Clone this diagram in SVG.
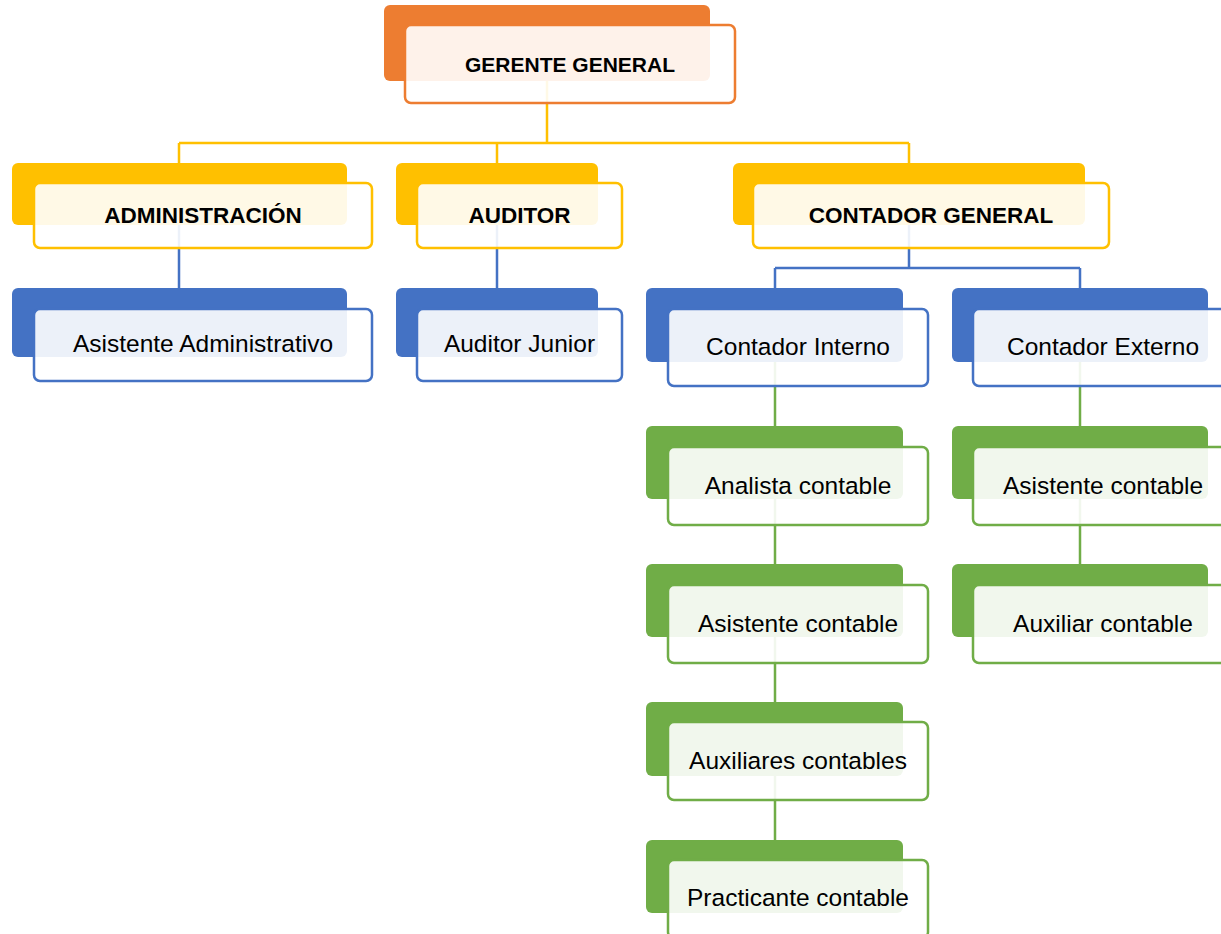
<svg xmlns="http://www.w3.org/2000/svg" width="1221" height="934" viewBox="0 0 1221 934">
<style>
.bo{fill:#ED7D31}.by{fill:#FFC000}.bb{fill:#4472C4}.bg{fill:#70AD47}
.f{fill:#fff;fill-opacity:.9;stroke-width:2.5}
.fo{stroke:#ED7D31}.fy{stroke:#FFC000}.fb{stroke:#4472C4}.fg{stroke:#70AD47}
.c{fill:none;stroke-width:2.5}
.cy{stroke:#FFC000}.cb{stroke:#4472C4}.cg{stroke:#70AD47}
.t{font-family:"Liberation Sans",Arial,sans-serif;font-size:24.5px;text-anchor:middle;fill:#000}
.tb{font-weight:bold;font-size:22.5px}
</style>
<rect width="1221" height="934" fill="#fff"/>
<g id="connectors">
<path class="c cy" d="M547 80V143M179 143H909M179 143V163M497 143V163M909 143V163"/>
<path class="c cb" d="M179 225V288M497 225V288M909 225V268M775 268H1080M775 268V288M1080 268V288"/>
<path class="c cg" d="M775 362V426M775 499V564M775 637V702M775 776V840M1080 362V426M1080 499V564"/>
</g>
<g id="gerente-general"><rect class="bo" x="384" y="5" width="326" height="76" rx="6"/><rect class="f fo" x="405" y="25" width="330" height="78" rx="6"/><text class="t tb" x="570" y="72" style="font-size:21px">GERENTE GENERAL</text></g>
<g id="administracion"><rect class="by" x="12" y="163" width="335" height="62" rx="6"/><rect class="f fy" x="34" y="183" width="338" height="65" rx="6"/><text class="t tb" x="203" y="223">ADMINISTRACIÓN</text></g>
<g id="auditor"><rect class="by" x="396" y="163" width="202" height="62" rx="6"/><rect class="f fy" x="417" y="183" width="205" height="65" rx="6"/><text class="t tb" x="519.5" y="223">AUDITOR</text></g>
<g id="contador-general"><rect class="by" x="733" y="163" width="352" height="62" rx="6"/><rect class="f fy" x="753" y="183" width="356" height="65" rx="6"/><text class="t tb" x="931" y="223">CONTADOR GENERAL</text></g>
<g id="asistente-administrativo"><rect class="bb" x="12" y="288" width="335" height="69" rx="6"/><rect class="f fb" x="34" y="309" width="338" height="72" rx="6"/><text class="t" x="203" y="352">Asistente Administrativo</text></g>
<g id="auditor-junior"><rect class="bb" x="396" y="288" width="202" height="69" rx="6"/><rect class="f fb" x="417" y="309" width="205" height="72" rx="6"/><text class="t" x="519.5" y="352">Auditor Junior</text></g>
<g id="contador-interno"><rect class="bb" x="646" y="288" width="257" height="74" rx="6"/><rect class="f fb" x="668" y="309" width="260" height="77" rx="6"/><text class="t" x="798" y="355">Contador Interno</text></g>
<g id="contador-externo"><rect class="bb" x="952" y="288" width="256" height="74" rx="6"/><rect class="f fb" x="973" y="309" width="260" height="77" rx="6"/><text class="t" x="1103" y="355">Contador Externo</text></g>
<g id="analista-contable"><rect class="bg" x="646" y="426" width="257" height="73" rx="6"/><rect class="f fg" x="668" y="447" width="260" height="78" rx="6"/><text class="t" x="798" y="494">Analista contable</text></g>
<g id="asistente-contable-interno"><rect class="bg" x="646" y="564" width="257" height="73" rx="6"/><rect class="f fg" x="668" y="585" width="260" height="78" rx="6"/><text class="t" x="798" y="632">Asistente contable</text></g>
<g id="auxiliares-contables"><rect class="bg" x="646" y="702" width="257" height="74" rx="6"/><rect class="f fg" x="668" y="722" width="260" height="78" rx="6"/><text class="t" x="798" y="769">Auxiliares contables</text></g>
<g id="practicante-contable"><rect class="bg" x="646" y="840" width="257" height="73" rx="6"/><rect class="f fg" x="668" y="860" width="260" height="78" rx="6"/><text class="t" x="798" y="906">Practicante contable</text></g>
<g id="asistente-contable-externo"><rect class="bg" x="952" y="426" width="256" height="73" rx="6"/><rect class="f fg" x="973" y="447" width="260" height="78" rx="6"/><text class="t" x="1103" y="494">Asistente contable</text></g>
<g id="auxiliar-contable"><rect class="bg" x="952" y="564" width="256" height="73" rx="6"/><rect class="f fg" x="973" y="585" width="260" height="78" rx="6"/><text class="t" x="1103" y="632">Auxiliar contable</text></g>
</svg>
